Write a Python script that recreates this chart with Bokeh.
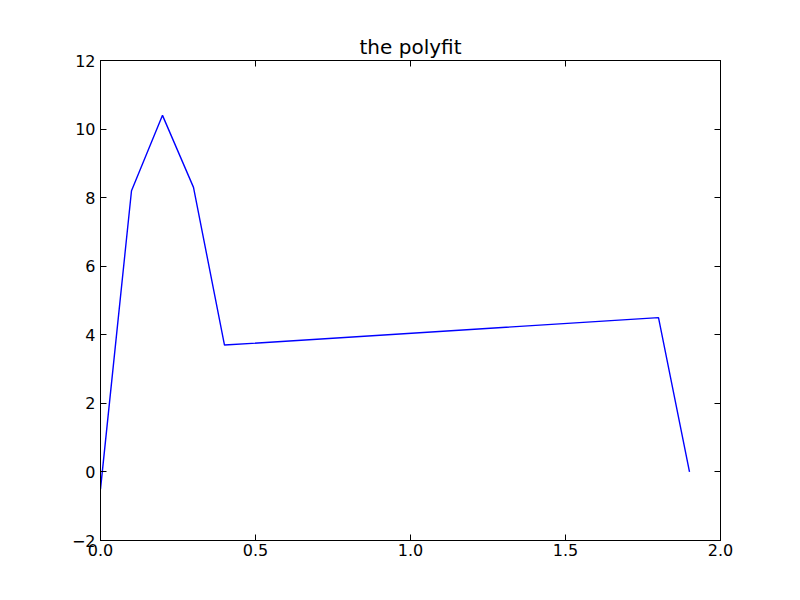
from bokeh.plotting import figure
from bokeh.models import Range1d, LinearAxis, FixedTicker
from bokeh.embed import file_html
from bokeh.resources import INLINE

x_vals = [0.0, 0.1, 0.2, 0.3, 0.4, 1.8, 1.9]
y_vals = [-0.5, 8.2, 10.4, 8.3, 3.7, 4.5, 0.0]
x_ticks = [0.0, 0.5, 1.0, 1.5, 2.0]
x_tick_labels = ["0.0", "0.5", "1.0", "1.5", "2.0"]
y_ticks = [-2, 0, 2, 4, 6, 8, 10, 12]
y_tick_labels = ["\u22122", "0", "2", "4", "6", "8", "10", "12"]

FONT = "DejaVu Sans"

p = figure(output_backend="svg", toolbar_location=None,
           width=784, height=584,
           x_range=Range1d(0, 2), y_range=Range1d(-2, 12),
           x_axis_location=None, y_axis_location=None,
           min_border_left=100, min_border_right=64,
           min_border_top=60, min_border_bottom=44)
p.frame_width = 620
p.frame_height = 480

p.title.text = "the polyfit"
p.title.align = "center"
p.title.text_font = FONT
p.title.text_font_size = "20px"
p.title.text_font_style = "normal"
p.title.text_color = "black"
p.title.offset = 0
p.title.standoff = 4

p.grid.visible = False
p.outline_line_color = "black"
p.outline_line_width = 1
p.outline_line_alpha = 1
p.background_fill_color = "white"
p.border_fill_color = "white"

p.line(x_vals, y_vals, line_color="blue", line_width=1.4)

def style(ax, labels, ticks, standoff=4, show_labels=True):
    ax.ticker = FixedTicker(ticks=ticks)
    ax.major_label_overrides = {t: l for t, l in zip(ticks, labels)}
    ax.major_tick_in = 6
    ax.major_tick_out = 0
    ax.minor_tick_in = 0
    ax.minor_tick_out = 0
    ax.axis_line_color = "black"
    ax.major_tick_line_color = "black"
    ax.major_label_text_font = FONT
    ax.major_label_text_font_size = "16px"
    ax.major_label_text_color = "black"
    ax.major_label_standoff = standoff
    if not show_labels:
        ax.major_label_text_alpha = 0
        ax.major_label_text_font_size = "1px"

bx = LinearAxis(); style(bx, x_tick_labels, x_ticks, 3); p.add_layout(bx, "below")
lx = LinearAxis(); style(lx, y_tick_labels, y_ticks, 5); p.add_layout(lx, "left")
tx = LinearAxis(); style(tx, x_tick_labels, x_ticks, 0, False); p.add_layout(tx, "above")
rx = LinearAxis(); style(rx, y_tick_labels, y_ticks, 0, False); p.add_layout(rx, "right")

open("out.html", "w").write(file_html(p, INLINE))
